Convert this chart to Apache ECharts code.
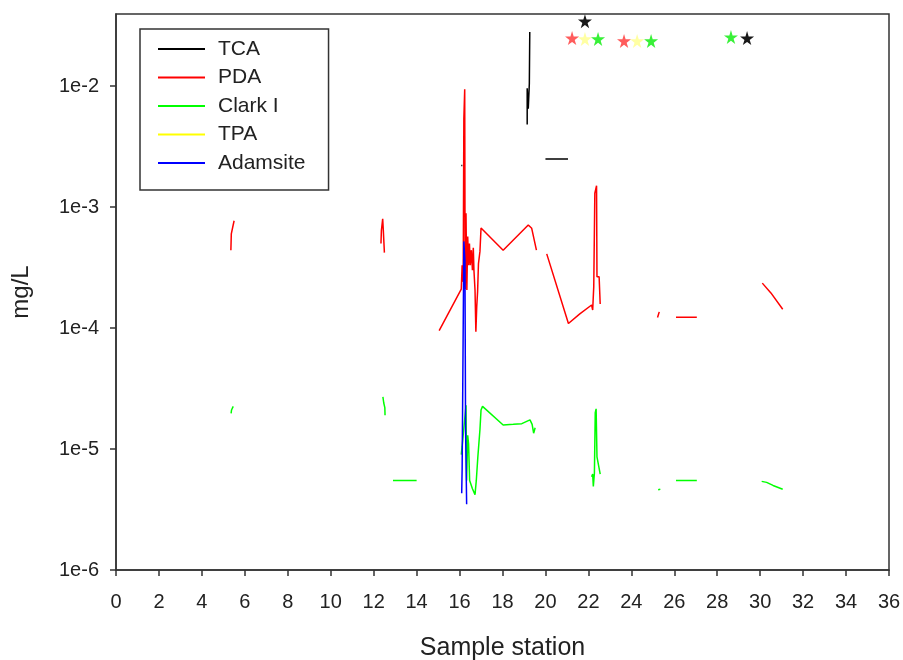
<!DOCTYPE html>
<html><head><meta charset="utf-8">
<script src="https://cdn.jsdelivr.net/npm/echarts@6/dist/echarts.min.js"></script>
<style>html,body{margin:0;padding:0;background:#fff}#c{width:903px;height:660px}</style>
</head><body><div id="c"></div>
<script>
// ---- data ----
const seriesNames = ['TCA', 'PDA', 'Clark I', 'TPA', 'Adamsite'];
const xTicks = [0,2,4,6,8,10,12,14,16,18,20,22,24,26,28,30,32,34,36];
const yTickLabels = ['1e-6','1e-5','1e-4','1e-3','1e-2'];

const tcaX = [16.08,16.13,null,19.15,19.15,19.2,19.25,19.27,null,20.0,21.05];
const tcaY = [2.2e-3,2.2e-3,null,4.8e-3,9.6e-3,6.5e-3,1.05e-2,2.8e-2,null,2.5e-3,2.5e-3];

const pdaX = [5.35,5.37,5.45,5.5,null,12.34,12.36,12.42,12.45,12.5,null,
  15.05,16.08,16.12,16.17,16.2,16.24,16.26,16.3,16.34,16.38,16.42,16.46,16.5,16.55,16.6,16.64,16.67,16.72,16.76,16.8,16.84,16.88,16.95,17.0,17.06,18.03,19.2,19.36,19.43,19.58,null,
  20.06,21.07,21.6,22.15,22.2,22.25,22.3,22.38,22.4,22.5,22.55,null,
  25.22,25.3,null,26.08,27.05,null,30.1,30.5,31.05];
const pdaY = [4.4e-4,6.0e-4,7.0e-4,7.7e-4,null,5.0e-4,6.4e-4,8.0e-4,6.4e-4,4.2e-4,null,
  9.5e-5,2.1e-4,3.3e-4,2.4e-4,5.4e-3,9.4e-3,2.1e-4,8.9e-4,2.06e-4,5.7e-4,3.3e-4,5.0e-4,3.3e-4,4.4e-4,3.0e-4,4.6e-4,3.0e-4,2.06e-4,9.3e-5,1.5e-4,2.0e-4,3.4e-4,4.3e-4,6.7e-4,6.6e-4,4.4e-4,7.1e-4,6.67e-4,6.45e-4,4.4e-4,null,
  4.1e-4,1.09e-4,1.31e-4,1.55e-4,1.41e-4,2.2e-4,1.3e-3,1.5e-3,2.65e-4,2.65e-4,1.58e-4,null,
  1.22e-4,1.36e-4,null,1.23e-4,1.23e-4,null,2.35e-4,1.95e-4,1.43e-4];

const clarkX = [5.36,5.38,5.46,null,12.43,12.47,12.52,12.53,null,12.9,14.0,null,
  16.08,16.12,16.3,16.33,16.38,16.42,16.47,16.6,16.72,16.78,16.85,16.95,17.0,17.07,18.03,18.5,18.9,19.28,19.38,19.45,19.52,null,
  22.15,22.2,22.23,22.28,22.32,22.36,22.4,22.48,22.55,null,
  25.25,25.35,null,26.08,27.05,null,30.07,30.3,30.6,31.05];
const clarkY = [1.97e-5,2.1e-5,2.25e-5,null,2.7e-5,2.4e-5,2.2e-5,1.9e-5,null,5.5e-6,5.5e-6,null,
  9.0e-6,1.05e-5,2.3e-5,5.5e-6,1.3e-5,1.1e-5,5.5e-6,4.7e-6,4.2e-6,5.5e-6,8.5e-6,1.45e-5,2.1e-5,2.25e-5,1.58e-5,1.6e-5,1.62e-5,1.74e-5,1.6e-5,1.35e-5,1.5e-5,null,
  5.9e-6,6.2e-6,4.9e-6,6.3e-6,2.0e-5,2.15e-5,8.6e-6,8.6e-6,6.2e-6,null,
  4.6e-6,4.65e-6,null,5.5e-6,5.5e-6,null,5.4e-6,5.3e-6,5.0e-6,4.65e-6];

const tpaX = [];
const tpaY = [];

const adamX = [16.1,16.12,16.2,16.25,16.28,16.33];
const adamY = [4.3e-6,6.8e-6,5.2e-4,3.6e-4,1.5e-5,3.5e-6];

// star markers above the plot
const tcaStarX = [21.84,29.39];   const tcaStarY = [0.0344,0.0249];
const pdaStarX = [21.24,23.66];   const pdaStarY = [0.0249,0.0236];
const tpaStarX = [21.84,24.27];   const tpaStarY = [0.0245,0.0236];
const clarkStarX = [22.45,24.92,28.64]; const clarkStarY = [0.0245,0.0236,0.0254];

// ---- chart ----
function pairs(xs, ys){
  return xs.map((x,i)=> (x===null||ys[i]===null) ? [xs[i-1]!=null?xs[i-1]:0,'-'] : [x, ys[i]]);
}
const colors = {'TCA':'#000000','PDA':'#ff0000','Clark I':'#00ff00','TPA':'#ffff00','Adamsite':'#0000ff'};
const starPath = 'path://M50,0 L61,35 L98,35 L68,57 L79,91 L50,70 L21,91 L32,57 L2,35 L39,35 Z';
const FONT = '"Liberation Sans", Arial, sans-serif';

function lineSeries(name, xs, ys){
  return {name, type:'line', data:pairs(xs,ys), symbol:'none', connectNulls:false,
    lineStyle:{color:colors[name], width:1.5}, itemStyle:{color:colors[name]}, animation:false, z:3};
}
function starSeries(name, color, xs, ys){
  return {name, type:'scatter', data:pairs(xs,ys), symbol:starPath, symbolSize:14,
    itemStyle:{color, opacity:0.9}, animation:false, z:4};
}

const chart = echarts.init(document.getElementById('c'), null, {renderer:'canvas'});
chart.setOption({
  backgroundColor:'#fff',
  animation:false,
  grid:{left:116, right:14, top:14, bottom:90, outerBoundsMode:'none', containLabel:false,
    show:true, borderColor:'#333', borderWidth:1.5, backgroundColor:'transparent'},
  legend:{
    data:seriesNames.map(n=>({name:n, icon:'rect', itemStyle:{color:colors[n]}})),
    orient:'vertical', left:140, top:29,
    padding:[9,23,16,18], itemGap:6.5, itemWidth:47, itemHeight:2,
    borderColor:'#333', borderWidth:1.5, backgroundColor:'#fff',
    textStyle:{fontFamily:FONT, fontSize:21, color:'#222', lineHeight:22, padding:[0,0,0,8]},
    selectedMode:false
  },
  xAxis:{
    type:'value', min:0, max:36, interval:2,
    name:'Sample station', nameLocation:'middle', nameGap:66,
    nameTextStyle:{fontFamily:FONT, fontSize:25, color:'#222'},
    axisLine:{lineStyle:{color:'#333', width:1.5}},
    axisTick:{inside:false, length:6, lineStyle:{color:'#333', width:1.5}},
    axisLabel:{fontFamily:FONT, fontSize:20, color:'#222', margin:22,
      formatter:(v)=> xTicks.includes(v) ? String(v) : ''},
    splitLine:{show:false}
  },
  yAxis:{
    type:'log', logBase:10, min:1e-6, max:0.0394, interval:1,
    name:'mg/L', nameLocation:'middle', nameGap:83, nameRotate:90,
    nameTextStyle:{fontFamily:FONT, fontSize:24, color:'#222'},
    axisLine:{lineStyle:{color:'#333', width:1.5}},
    axisTick:{length:6, lineStyle:{color:'#333', width:1.5}},
    axisLabel:{fontFamily:FONT, fontSize:20, color:'#222', margin:17, showMaxLabel:false,
      formatter:(v)=>{ const e=Math.round(Math.log10(v)); const s='1e'+e; return yTickLabels.includes(s)? s : ''; }},
    splitLine:{show:false}, minorTick:{show:false}
  },
  series:[
    lineSeries('TCA', tcaX, tcaY),
    lineSeries('PDA', pdaX, pdaY),
    lineSeries('Clark I', clarkX, clarkY),
    lineSeries('TPA', tpaX, tpaY),
    lineSeries('Adamsite', adamX, adamY),
    starSeries('TCA star', '#000000', tcaStarX, tcaStarY),
    starSeries('PDA star', '#ff4a4a', pdaStarX, pdaStarY),
    starSeries('TPA star', '#ffff99', tpaStarX, tpaStarY),
    starSeries('Clark I star', '#22ee22', clarkStarX, clarkStarY)
  ]
});
</script>
</body></html>
